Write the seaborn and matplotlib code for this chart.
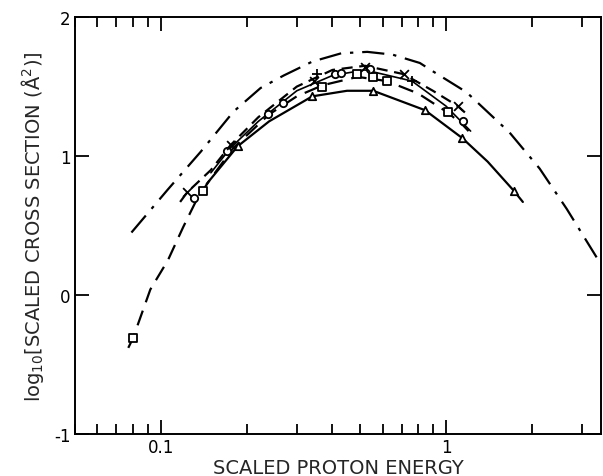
import numpy as np
import pandas as pd
import seaborn as sns
import matplotlib.pyplot as plt
from matplotlib.ticker import LogLocator, NullFormatter, FixedLocator, FixedFormatter

# dash-dot curve (top)
dashdot_x = [0.079, 0.106, 0.138, 0.18, 0.224, 0.27, 0.34, 0.43, 0.53, 0.65, 0.81, 0.90, 1.18, 1.67, 2.13, 2.65, 3.4]
dashdot_y = [0.45, 0.76, 1.03, 1.32, 1.49, 1.58, 1.68, 1.74, 1.75, 1.73, 1.67, 1.61, 1.46, 1.17, 0.91, 0.62, 0.26]

# short-dashed upper curve
sdash_x = [0.117, 0.124, 0.15, 0.176, 0.22, 0.30, 0.40, 0.52, 0.71, 0.90, 1.10, 1.20]
sdash_y = [0.67, 0.74, 0.90, 1.08, 1.28, 1.50, 1.62, 1.65, 1.59, 1.47, 1.36, 1.29]

# thin solid middle curve
thin_x = [0.15, 0.176, 0.22, 0.30, 0.40, 0.52, 0.76, 1.0, 1.22]
thin_y = [0.88, 1.06, 1.25, 1.47, 1.58, 1.62, 1.54, 1.36, 1.18]

# long-dashed curve
ldash_x = [0.077, 0.080, 0.092, 0.106, 0.12, 0.134, 0.15, 0.18, 0.24, 0.30, 0.37, 0.49, 0.62, 0.80, 1.02, 1.15, 1.20]
ldash_y = [-0.38, -0.31, 0.04, 0.25, 0.49, 0.69, 0.84, 1.06, 1.30, 1.43, 1.51, 1.57, 1.54, 1.45, 1.31, 1.22, 1.18]

# solid curve (lowest of cluster)
solid_x = [0.145, 0.186, 0.24, 0.34, 0.45, 0.556, 0.845, 1.14, 1.40, 1.73, 1.86]
solid_y = [0.80, 1.07, 1.25, 1.43, 1.47, 1.47, 1.33, 1.13, 0.96, 0.75, 0.67]

# data points
tri_x = [0.186, 0.34, 0.556, 0.845, 1.14, 1.73]
tri_y = [1.07, 1.43, 1.47, 1.33, 1.13, 0.75]
sq_x = [0.080, 0.141, 0.368, 0.488, 0.556, 0.622, 1.02]
sq_y = [-0.31, 0.75, 1.50, 1.59, 1.57, 1.54, 1.32]
circ_x = [0.131, 0.171, 0.238, 0.269, 0.41, 0.43, 0.54, 1.15]
circ_y = [0.70, 1.04, 1.30, 1.38, 1.59, 1.60, 1.63, 1.25]
cross_x = [0.124, 0.176, 0.345, 0.52, 0.71, 1.10]
cross_y = [0.74, 1.08, 1.54, 1.64, 1.59, 1.36]
plus_x = [0.354, 0.76]
plus_y = [1.59, 1.54]

sns.set_style('ticks')
plt.rcParams['font.family'] = ['DejaVu Sans']

fig = plt.figure(figsize=(6.03, 4.77), dpi=100)
ax = fig.add_axes([0.124, 0.088, 0.873, 0.874])

lw = 1.6
sns.lineplot(x=dashdot_x, y=dashdot_y, ax=ax, color='black', lw=lw, sort=False).lines[-1].set_dashes((10, 4, 1.5, 4))
sns.lineplot(x=sdash_x, y=sdash_y, ax=ax, color='black', lw=lw, sort=False).lines[-1].set_dashes((5, 3))
sns.lineplot(x=thin_x, y=thin_y, ax=ax, color='black', lw=1.2, sort=False)
sns.lineplot(x=ldash_x, y=ldash_y, ax=ax, color='black', lw=lw, sort=False).lines[-1].set_dashes((7, 4))
sns.lineplot(x=solid_x, y=solid_y, ax=ax, color='black', lw=lw, sort=False)

mk = dict(ax=ax, s=28, facecolor='white', edgecolor='black', linewidth=1.3, zorder=5)
sns.scatterplot(x=tri_x, y=tri_y, marker='^', **mk)
sns.scatterplot(x=sq_x, y=sq_y, marker='s', **mk)
sns.scatterplot(x=circ_x, y=circ_y, marker='o', **mk)
sns.scatterplot(x=cross_x, y=cross_y, marker='x', ax=ax, s=40, color='black', linewidth=1.3, zorder=5)
sns.scatterplot(x=plus_x, y=plus_y, marker='+', ax=ax, s=45, color='black', linewidth=1.3, zorder=5)

ax.set_xscale('log')
ax.set_xlim(0.05, 3.5)
ax.set_ylim(-1, 2)
ax.xaxis.set_major_locator(FixedLocator([0.1, 1]))
ax.xaxis.set_major_formatter(FixedFormatter(['0.1', '1']))
ax.xaxis.set_minor_locator(LogLocator(base=10, subs=np.arange(2, 10)))
ax.xaxis.set_minor_formatter(NullFormatter())
ax.set_yticks([-1, 0, 1, 2])
ax.set_yticklabels(['-1', '0', '1', '2'])

ax.tick_params(which='both', direction='in', top=True, right=True, width=1.3, labelsize=12, colors='black')
ax.tick_params(which='major', length=10, pad=3)
ax.tick_params(which='minor', length=7)
for s in ax.spines.values():
    s.set_linewidth(1.4)
    s.set_color('black')

ax.set_xlabel('SCALED PROTON ENERGY', fontsize=14, labelpad=1)
ax.set_ylabel(r'log$_{10}$[SCALED CROSS SECTION ($\mathrm{\AA}^2$)]', fontsize=14, labelpad=6)

fig.savefig('out.png', dpi=100)
